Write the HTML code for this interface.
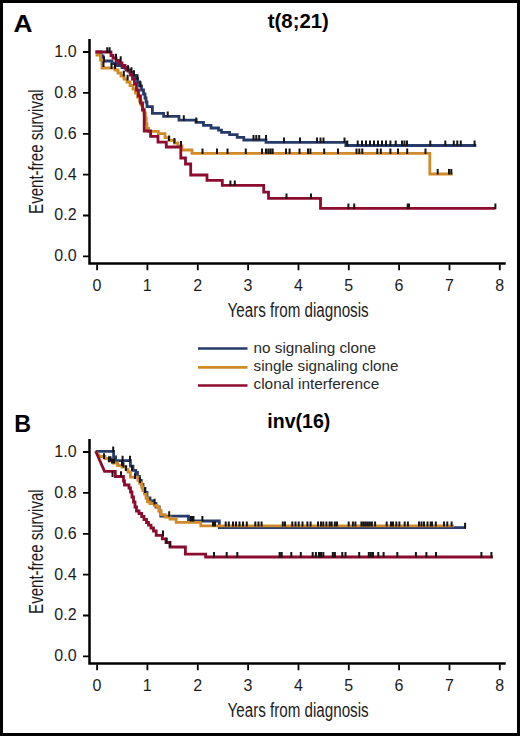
<!DOCTYPE html>
<html><head><meta charset="utf-8"><style>
html,body{margin:0;padding:0;background:#fff;}
body{width:520px;height:736px;overflow:hidden;position:relative;}
#frame{position:absolute;left:0;top:0;width:514px;height:730px;border:3px solid #000;background:#fff;}
svg{position:absolute;left:0;top:0;}
text{font-family:"Liberation Sans",sans-serif;}
.tl{font-size:16px;fill:#1c1c1c;}
.at{font-size:19.5px;fill:#1c1c1c;}
.pl{font-size:24px;font-weight:bold;fill:#000;}
.ti{font-size:19.5px;font-weight:bold;fill:#000;}
.lg{font-size:15px;fill:#2a2a2a;}
</style></head><body><div id="frame"></div>
<svg width="520" height="736" viewBox="0 0 520 736">
<path d="M89.5,39V263.5H505.7" fill="none" stroke="#000" stroke-width="2.5"/>
<path d="M83,256.4H89M83,215.5H89M83,174.6H89M83,133.8H89M83,92.9H89M83,52.0H89" stroke="#000" stroke-width="1.8"/>
<path d="M97.1,264.5V270.2M147.4,264.5V270.2M197.8,264.5V270.2M248.1,264.5V270.2M298.5,264.5V270.2M348.8,264.5V270.2M399.1,264.5V270.2M449.5,264.5V270.2M499.8,264.5V270.2" stroke="#000" stroke-width="1.8"/>
<text x="76.6" y="261.3" text-anchor="end" class="tl">0.0</text>
<text x="76.6" y="220.4" text-anchor="end" class="tl">0.2</text>
<text x="76.6" y="179.5" text-anchor="end" class="tl">0.4</text>
<text x="76.6" y="138.7" text-anchor="end" class="tl">0.6</text>
<text x="76.6" y="97.8" text-anchor="end" class="tl">0.8</text>
<text x="76.6" y="56.9" text-anchor="end" class="tl">1.0</text>
<text x="97.0" y="291.2" text-anchor="middle" class="tl">0</text>
<text x="147.3" y="291.2" text-anchor="middle" class="tl">1</text>
<text x="197.7" y="291.2" text-anchor="middle" class="tl">2</text>
<text x="248.0" y="291.2" text-anchor="middle" class="tl">3</text>
<text x="298.4" y="291.2" text-anchor="middle" class="tl">4</text>
<text x="348.7" y="291.2" text-anchor="middle" class="tl">5</text>
<text x="399.0" y="291.2" text-anchor="middle" class="tl">6</text>
<text x="449.4" y="291.2" text-anchor="middle" class="tl">7</text>
<text x="499.7" y="291.2" text-anchor="middle" class="tl">8</text>
<text x="227.6" y="316.6" class="at" textLength="141" lengthAdjust="spacingAndGlyphs">Years from diagnosis</text>
<text transform="translate(43.0,213.9) rotate(-90)" class="at" textLength="124.6" lengthAdjust="spacingAndGlyphs">Event-free survival</text>
<text x="13.6" y="31.6" class="pl" textLength="19.0" lengthAdjust="spacingAndGlyphs">A</text>
<text x="267.8" y="27.9" class="ti" textLength="61" lengthAdjust="spacingAndGlyphs">t(8;21)</text>
<path d="M95.5,52H101V56H103V61H112V63.5H117V65.5H122V67.5H126V70H130V72.5H133V75.5H135.5V78.5H137.5V82H139.5V86H141.5V90H143.5V94H145V98H146V102H147V106.7H152.4V113.3H163.6V116.3H179V120.2H196V122.3H203.5V125.3H211V128H218.5V130.2H221.5V132.3H229.6V134.6H237.2V137.3H243.8V140H266V142.4H345.8V145.5H476.3" fill="none" stroke="#273b6b" stroke-width="2.8" stroke-linejoin="miter" stroke-linecap="butt"/>
<path d="M95.5,52H97V55H100.5V60H102V68H115V70H118V73H121V76H124V79H127V82H130V85.5H133V89H135.5V93H137.5V97H139.5V101H141V105H142.5V109H144V113H145.4V118H146.2V124H147V128.5H148.5V131.3H158.3V133.6H165V137.7H169V140.4H174.4V143H178V145.8H182V150H192V153.3H429.8V174H452.7" fill="none" stroke="#d08a28" stroke-width="2.8" stroke-linejoin="miter" stroke-linecap="butt"/>
<path d="M95.5,52H111V55.5H113V58H116V60.5H119V63H122V65.5H125V68H128V71H130.5V75H132.5V79H134.5V84H136.5V90H138.5V96H140.5V103H142.5V110H144.2V131H150.6V136.3H158V142.2H166.3V147H180.8V158H185.5V164H190.7V175H207V180.3H222.3V185.3H263.7V192.2H268.5V198.4H320.5V208.3H495.5" fill="none" stroke="#8c0b2e" stroke-width="2.8" stroke-linejoin="miter" stroke-linecap="butt"/>
<path d="M104,56.2V61.9M103.5,61.2V66.9M107.2,47.2V52.9M109.6,47.2V52.9M111.5,63.2V68.9M115,63.2V68.9M116,53.7V59.4M120.7,56.2V61.9M123.8,70.7V76.4M127.6,74.7V80.4M131.5,67.2V72.9M134,70.2V75.9M137.5,74.2V79.9M140.5,81.2V86.9M128,65.2V70.9M167.7,111.4V116.9M183.8,115.3V120.8M196.3,117.4V122.9M253.5,135.1V140.6M256.3,135.1V140.6M259.2,135.1V140.6M266,135.1V140.6M284,137.5V143.0M300,137.5V143.0M317,137.5V143.0M320.5,137.5V143.0M323.5,137.5V143.0M344.5,137.5V143.0M347.3,140.6V146.1M357.7,140.6V146.1M362,140.6V146.1M366,140.6V146.1M370,140.6V146.1M374,140.6V146.1M378,140.6V146.1M382,140.6V146.1M386,140.6V146.1M390.4,140.6V146.1M395.7,140.6V146.1M402,140.6V146.1M404.5,140.6V146.1M407,140.6V146.1M430.3,140.6V146.1M445.3,140.6V146.1M453.8,140.6V146.1M457.3,140.6V146.1M460.8,140.6V146.1M474.6,140.6V146.1M202.5,148.4V153.9M217,148.4V153.9M227.5,148.4V153.9M245.8,148.4V153.9M262,148.4V153.9M266,148.4V153.9M268.3,148.4V153.9M270.5,148.4V153.9M272.7,148.4V153.9M286,148.4V153.9M289.6,148.4V153.9M299.5,148.4V153.9M308,148.4V153.9M310.4,148.4V153.9M324.2,148.4V153.9M338,148.4V153.9M356.5,148.4V153.9M359.3,148.4V153.9M362.3,148.4V153.9M377.3,148.4V153.9M380.8,148.4V153.9M390.4,148.4V153.9M398,148.4V153.9M407.2,148.4V153.9M425.5,148.4V153.9M437.7,169.1V174.6M449,169.1V174.6M451.3,169.1V174.6M169,135.5V141.0M174.4,138.1V143.6M181,140.9V146.4M230.4,180.4V185.9M234.8,180.4V185.9M286.5,193.5V199.0M311,193.5V199.0M348.4,203.4V208.9M354.2,203.4V208.9M407.7,203.4V208.9M409,203.4V208.9M495.4,203.4V208.9" stroke="#151515" stroke-width="2"/>
<path d="M89.5,439V663.5H505.7" fill="none" stroke="#000" stroke-width="2.5"/>
<path d="M83,656.4H89M83,615.5H89M83,574.6H89M83,533.8H89M83,492.9H89M83,452.0H89" stroke="#000" stroke-width="1.8"/>
<path d="M97.1,664.5V670.2M147.4,664.5V670.2M197.8,664.5V670.2M248.1,664.5V670.2M298.5,664.5V670.2M348.8,664.5V670.2M399.1,664.5V670.2M449.5,664.5V670.2M499.8,664.5V670.2" stroke="#000" stroke-width="1.8"/>
<text x="76.6" y="661.3" text-anchor="end" class="tl">0.0</text>
<text x="76.6" y="620.4" text-anchor="end" class="tl">0.2</text>
<text x="76.6" y="579.5" text-anchor="end" class="tl">0.4</text>
<text x="76.6" y="538.7" text-anchor="end" class="tl">0.6</text>
<text x="76.6" y="497.8" text-anchor="end" class="tl">0.8</text>
<text x="76.6" y="456.9" text-anchor="end" class="tl">1.0</text>
<text x="97.0" y="691.2" text-anchor="middle" class="tl">0</text>
<text x="147.3" y="691.2" text-anchor="middle" class="tl">1</text>
<text x="197.7" y="691.2" text-anchor="middle" class="tl">2</text>
<text x="248.0" y="691.2" text-anchor="middle" class="tl">3</text>
<text x="298.4" y="691.2" text-anchor="middle" class="tl">4</text>
<text x="348.7" y="691.2" text-anchor="middle" class="tl">5</text>
<text x="399.0" y="691.2" text-anchor="middle" class="tl">6</text>
<text x="449.4" y="691.2" text-anchor="middle" class="tl">7</text>
<text x="499.7" y="691.2" text-anchor="middle" class="tl">8</text>
<text x="227.6" y="716.6" class="at" textLength="141" lengthAdjust="spacingAndGlyphs">Years from diagnosis</text>
<text transform="translate(43.0,613.9) rotate(-90)" class="at" textLength="124.6" lengthAdjust="spacingAndGlyphs">Event-free survival</text>
<text x="14.2" y="431.6" class="pl" textLength="16.8" lengthAdjust="spacingAndGlyphs">B</text>
<text x="267.3" y="427.9" class="ti" textLength="63" lengthAdjust="spacingAndGlyphs">inv(16)</text>
<path d="M95.6,451.4H113.6V456.8H115.6V460.6H130.4V466.2H133V470.3H135.8V472.3H137.5V476.3H139.5V480.4H141.3V484.4H143V488.5H145V492.5H147V498H150V501H153V503.5H156V507H159.2V510.8H160.8V516.2H188.5V521H219.3V527.6H466" fill="none" stroke="#273b6b" stroke-width="2.8" stroke-linejoin="miter" stroke-linecap="butt"/>
<path d="M95.6,451.4L100,456.5H105V458.5H109V461H113V463H117.6V465.5H122V467H126V469.4H128V472H130.4V477.2H137.9V480.4H139.5V483H141.7V487H143V490.5H144.6V494H146V498H147.5V501.8H150V503.5H154.2V505.4H157V507.5H159V511H161V514.6H165V517H170V519.2H176.2V522.3H200.8V525.8H454" fill="none" stroke="#d08a28" stroke-width="2.8" stroke-linejoin="miter" stroke-linecap="butt"/>
<path d="M95.7,451.3L104.5,471.3H115.3V476.5H123.5V481H124.5V485H129V488H130.5V492H132V497H133.5V502H135V507H136.5V511H139V513.5H141.7V516.5H144V519.5H146.5V522.5H148.5V525.2H151V528H153.5V531H156.2V535.4H162.3V538.8H166V542.5H170V547H185.4V554.2H205.6V557H493" fill="none" stroke="#8c0b2e" stroke-width="2.8" stroke-linejoin="miter" stroke-linecap="butt"/>
<path d="M113.2,446.59999999999997V452.29999999999995M122.6,455.8V461.5M130,455.8V461.5M104,453.2V458.9M109,456.2V461.9M112.5,471.2V476.9M121,471.2V476.9M126,465.2V470.9M132,465.2V470.9M135,473.2V478.9M140,477.2V482.9M145,487.2V492.9M154.6,498.7V504.4M163,530.6V536.3M166.6,537.7V543.4M169.9,541.2V546.9M169.2,511.3V516.8M190.8,516.1V521.6M192,516.1V521.6M193.5,516.1V521.6M202.4,516.1V521.6M465.1,522.7V528.2M109,456.2V461.6M110.5,456.2V461.6M112,458.2V463.6M114,458.2V463.6M122,460.7V466.1M123.5,462.2V467.6M213,521.5V526.4M215,521.5V526.4M225.7,521.5V526.4M228.8,521.5V526.4M233,521.5V526.4M236,521.5V526.4M239.5,521.5V526.4M243,521.5V526.4M246.8,521.5V526.4M255.3,521.5V526.4M258.5,521.5V526.4M261.6,521.5V526.4M282.8,521.5V526.4M285,521.5V526.4M292.3,521.5V526.4M295.5,521.5V526.4M298.7,521.5V526.4M302.5,521.5V526.4M307.4,521.5V526.4M310.6,521.5V526.4M318,521.5V526.4M321,521.5V526.4M323.3,521.5V526.4M326.4,521.5V526.4M329.6,521.5V526.4M331.7,521.5V526.4M334.9,521.5V526.4M337,521.5V526.4M348.7,521.5V526.4M352.9,521.5V526.4M355.4,521.5V526.4M361.4,521.5V526.4M363.5,521.5V526.4M365.6,521.5V526.4M367.7,521.5V526.4M369.8,521.5V526.4M371.9,521.5V526.4M375.1,521.5V526.4M386.7,521.5V526.4M391,521.5V526.4M393,521.5V526.4M396.3,521.5V526.4M399.4,521.5V526.4M404.7,521.5V526.4M407.9,521.5V526.4M419,521.5V526.4M421.5,521.5V526.4M424,521.5V526.4M427.5,521.5V526.4M430.7,521.5V526.4M432,521.5V526.4M435.8,521.5V526.4M444,521.5V526.4M447.3,521.5V526.4M451.6,521.5V526.4M214,552.1V557.6M226.7,552.1V557.6M237.3,552.1V557.6M279.6,552.1V557.6M281.7,552.1V557.6M291.3,552.1V557.6M300.8,552.1V557.6M312.7,552.1V557.6M315.9,552.1V557.6M319,552.1V557.6M321,552.1V557.6M323.3,552.1V557.6M332.8,552.1V557.6M334.9,552.1V557.6M342.3,552.1V557.6M345.5,552.1V557.6M359.2,552.1V557.6M368.8,552.1V557.6M370.9,552.1V557.6M373,552.1V557.6M378.3,552.1V557.6M383.6,552.1V557.6M397.3,552.1V557.6M415.9,552.1V557.6M426.4,552.1V557.6M436,552.1V557.6M481.4,552.1V557.6M491.4,552.1V557.6" stroke="#151515" stroke-width="2"/>
<path d="M198,348.5H247.5" stroke="#273b6b" stroke-width="2.7"/>
<path d="M198,367.3H247.5" stroke="#d08a28" stroke-width="2.7"/>
<path d="M198,385.5H247.5" stroke="#8c0b2e" stroke-width="2.7"/>
<text x="253.5" y="352.6" class="lg" textLength="122.5" lengthAdjust="spacingAndGlyphs">no signaling clone</text>
<text x="253.5" y="371.1" class="lg" textLength="145" lengthAdjust="spacingAndGlyphs">single signaling clone</text>
<text x="253.5" y="389.4" class="lg" textLength="125.7" lengthAdjust="spacingAndGlyphs">clonal interference</text>
</svg></body></html>
